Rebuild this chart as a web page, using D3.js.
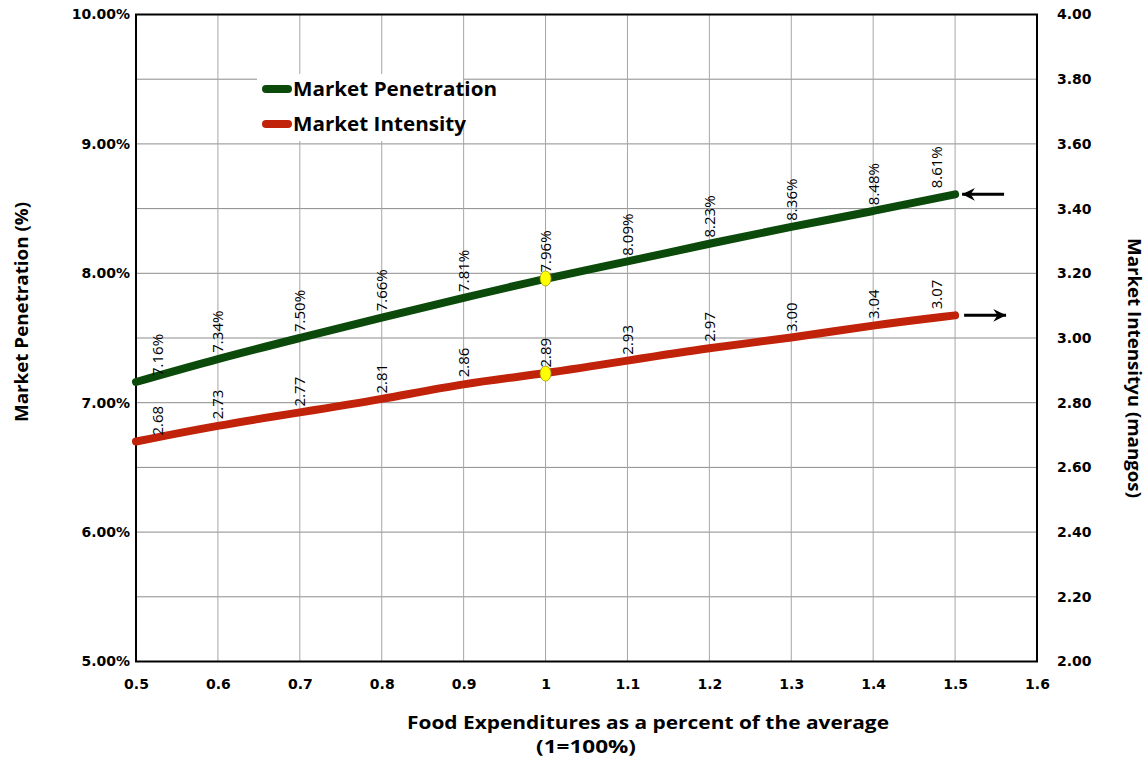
<!DOCTYPE html>
<html>
<head>
<meta charset="utf-8">
<script src="https://cdn.jsdelivr.net/npm/d3@7"></script>
<style>
  html, body { margin: 0; padding: 0; background: #fff; }
  svg { display: block; }
</style>
</head>
<body>
<svg id="chart" width="1147" height="762"></svg>
<script>
// Food expenditure index (1 = average household)
const expenditure = [0.5, 0.6, 0.7, 0.8, 0.9, 1.0, 1.1, 1.2, 1.3, 1.4, 1.5];
// Market penetration, percent of households
const penetration = [7.16, 7.34, 7.50, 7.66, 7.81, 7.96, 8.09, 8.23, 8.36, 8.48, 8.61];
// Market intensity, mangos per buying household
const intensity = [2.68, 2.73, 2.77, 2.81, 2.86, 2.89, 2.93, 2.97, 3.00, 3.04, 3.07];

const xTicks = [0.5, 0.6, 0.7, 0.8, 0.9, 1.0, 1.1, 1.2, 1.3, 1.4, 1.5, 1.6];
const leftTicks = [5, 6, 7, 8, 9, 10];
const rightTicks = [2.0, 2.2, 2.4, 2.6, 2.8, 3.0, 3.2, 3.4, 3.6, 3.8, 4.0];
const highlightX = 1.0;

const seriesNames = ["Market Penetration", "Market Intensity"];
const seriesColors = ["#0b4a0b", "#c0230a"];

const svg = d3.select("#chart");
const L = 136, R = 1037, T = 14.5, B = 661.5;

const x = d3.scaleLinear().domain([0.5, 1.6]).range([L, R]);
const yL = d3.scaleLinear().domain([5, 10]).range([B, T]);
const yR = d3.scaleLinear().domain([2, 4]).range([B, T]);

const tickFont = "'DejaVu Sans', Verdana, sans-serif";
const textFont = "'Open Sans', 'Noto Sans', sans-serif";

// gridlines
const grid = svg.append("g");
grid.selectAll("line.h").data(rightTicks).join("line")
  .attr("x1", L).attr("x2", R)
  .attr("y1", d => yR(d)).attr("y2", d => yR(d))
  .attr("stroke", "#8c8c8c").attr("stroke-width", 1);
grid.selectAll("line.v").data(xTicks.slice(1, -1)).join("line")
  .attr("x1", d => x(d)).attr("x2", d => x(d))
  .attr("y1", T).attr("y2", B)
  .attr("stroke", "#a6a6a6").attr("stroke-width", 1);

// legend background
svg.append("rect").attr("x", 257).attr("y", 74).attr("width", 206).attr("height", 67).attr("fill", "#fff");

// axes (labels only, the frame is drawn separately)
const xAxis = svg.append("g").attr("transform", `translate(0,${B})`)
  .call(d3.axisBottom(x).tickValues(xTicks).tickFormat(d => d === 1 ? "1" : d3.format(".1f")(d)).tickSize(0).tickPadding(18));
const lAxis = svg.append("g").attr("transform", `translate(${L},0)`)
  .call(d3.axisLeft(yL).tickValues(leftTicks).tickFormat(d => d3.format(".2f")(d) + "%").tickSize(0).tickPadding(6));
const rAxis = svg.append("g").attr("transform", `translate(${R},0)`)
  .call(d3.axisRight(yR).tickValues(rightTicks).tickFormat(d3.format(".2f")).tickSize(0).tickPadding(20));
[xAxis, lAxis, rAxis].forEach(g => {
  g.select(".domain").remove();
  g.selectAll("text").attr("font-family", tickFont).attr("font-weight", "bold")
    .attr("font-size", 14).attr("fill", "#000");
});

// frame
svg.append("rect").attr("x", L).attr("y", T).attr("width", R - L).attr("height", B - T)
  .attr("fill", "none").attr("stroke", "#000").attr("stroke-width", 2);

// series lines (smoothed)
const series = [
  { values: penetration, y: yL, fmt: v => d3.format(".2f")(v) + "%" },
  { values: intensity, y: yR, fmt: v => d3.format(".2f")(v) }
];
series.forEach((s, i) => {
  const pts = expenditure.map((e, j) => [e, s.values[j]]);
  svg.append("path").datum(pts)
    .attr("d", d3.line().curve(d3.curveBasis).x(d => x(d[0])).y(d => s.y(d[1])))
    .attr("fill", "none").attr("stroke", seriesColors[i])
    .attr("stroke-width", 8).attr("stroke-linecap", "round").attr("stroke-linejoin", "round");
});

// highlighted average point
series.forEach(s => {
  const j = expenditure.indexOf(highlightX);
  svg.append("ellipse").attr("cx", x(highlightX)).attr("cy", s.y(s.values[j]))
    .attr("rx", 5.5).attr("ry", 7.5).attr("fill", "#ffff00").attr("stroke", "#9a9a00").attr("stroke-width", 0.8);
});

// value labels, rotated, sitting above each point
series.forEach(s => {
  svg.append("g").selectAll("text").data(expenditure).join("text")
    .attr("transform", (e, j) => {
      let cx = x(e);
      if (j === 0) cx += 22;
      if (j === expenditure.length - 1) cx -= 18;
      return `translate(${cx},${s.y(s.values[j]) - 6}) rotate(-90)`;
    })
    .attr("dy", "0.36em")
    .attr("font-family", textFont).attr("font-size", 15).attr("fill", "#000")
    .text((e, j) => s.fmt(s.values[j]));
});

// arrows pointing each line to its own axis
const defs = svg.append("defs");
defs.append("marker").attr("id", "head").attr("viewBox", "0 0 14 14")
  .attr("refX", 13).attr("refY", 7).attr("markerWidth", 15).attr("markerHeight", 15)
  .attr("markerUnits", "userSpaceOnUse").attr("orient", "auto")
  .append("path").attr("d", "M1,1 L13,7 L1,13 L5,7 Z").attr("fill", "#000");
const last = expenditure.length - 1;
const xEnd = x(expenditure[last]);
svg.append("line")
  .attr("x1", xEnd + 49).attr("x2", xEnd + 7)
  .attr("y1", yL(penetration[last])).attr("y2", yL(penetration[last]))
  .attr("stroke", "#000").attr("stroke-width", 3).attr("marker-end", "url(#head)");
svg.append("line")
  .attr("x1", xEnd + 9).attr("x2", xEnd + 51)
  .attr("y1", yR(intensity[last])).attr("y2", yR(intensity[last]))
  .attr("stroke", "#000").attr("stroke-width", 3).attr("marker-end", "url(#head)");

// legend
const lg = svg.append("g");
const legendWidths = [204, 173];
seriesNames.forEach((name, i) => {
  const cy = 89 + i * 35;
  lg.append("line").attr("x1", 266).attr("x2", 288).attr("y1", cy).attr("y2", cy)
    .attr("stroke", seriesColors[i]).attr("stroke-width", 8).attr("stroke-linecap", "round");
  lg.append("text").attr("x", 293).attr("y", cy).attr("dy", "0.35em")
    .attr("font-family", textFont).attr("font-weight", "bold").attr("font-size", 19)
    .attr("textLength", legendWidths[i]).attr("lengthAdjust", "spacingAndGlyphs")
    .attr("fill", "#000").text(name);
});

// axis titles
const title = (sel) => sel.attr("font-family", textFont).attr("font-weight", "bold")
  .attr("font-size", 18).attr("lengthAdjust", "spacingAndGlyphs").attr("fill", "#000");
svg.append("text").attr("x", 648).attr("y", 729).attr("text-anchor", "middle")
  .attr("textLength", 482).call(title)
  .text("Food Expenditures as a percent of the average");
svg.append("text").attr("x", 586).attr("y", 753).attr("text-anchor", "middle")
  .attr("textLength", 100).call(title)
  .text("(1=100%)");
svg.append("text").attr("transform", "translate(22,312) rotate(-90)")
  .attr("text-anchor", "middle").attr("dy", "0.35em")
  .attr("textLength", 220).call(title)
  .text("Market Penetration (%)");
svg.append("text").attr("transform", "translate(1134,368) rotate(90)")
  .attr("text-anchor", "middle").attr("dy", "0.35em")
  .attr("textLength", 260).call(title)
  .text("Market Intensityu (mangos)");
</script>
</body>
</html>
